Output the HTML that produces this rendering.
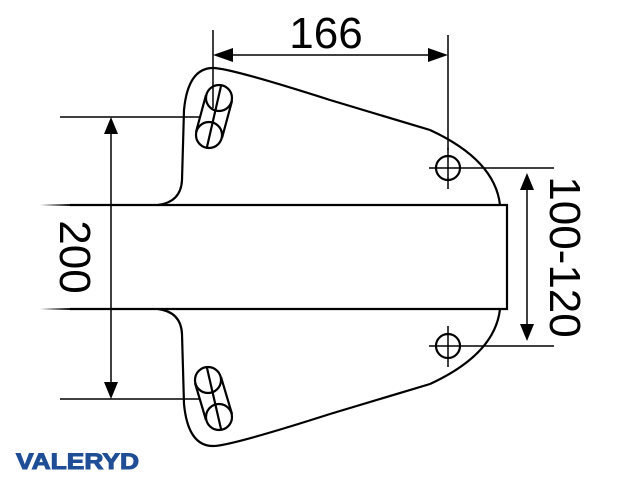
<!DOCTYPE html>
<html><head><style>body{margin:0;background:#fff}</style></head><body>
<svg width="640" height="480" viewBox="0 0 640 480" xmlns="http://www.w3.org/2000/svg">
<defs>
<linearGradient id="fl" x1="0" x2="1"><stop offset="0" stop-color="#000" stop-opacity="0"/><stop offset="1" stop-color="#000"/></linearGradient>
</defs>
<g fill="none" stroke="#000" stroke-width="2.2">
<path d="M158,205 Q181,202 182,180 L184,110 Q188,68 213,68 Q230,68 330,100 L430,130 Q495,160 500,205"/>
<path d="M158,309 Q181,312 182,334 L184,404 Q188,446 213,446 Q230,446 330,414 L430,384 Q495,354 500,309"/>
<path d="M70,205 H507 V309 H70"/>
<circle cx="219" cy="98" r="13"/><circle cx="209" cy="135" r="13"/>
<path d="M206,95 L196,132 M232,101 L222,138 M221,86 L207,147"/>
<circle cx="208" cy="380" r="13"/><circle cx="219" cy="417" r="13"/>
<path d="M195,383 L206,420 M221,377 L232,414 M207,368 L221,429"/>
<circle cx="448" cy="168" r="12"/><circle cx="448" cy="346" r="12"/>
</g>
<g stroke="#000" stroke-width="1.5" fill="none">
<path d="M429,168 H467 M448,148 V189 M429,346 H467 M448,326 V367"/>
<path d="M213,30 V108 M448,35 V150"/>
<path d="M220,55 H441"/>
<path d="M467,168 H554 M467,346 H554"/>
<path d="M527,178 V336"/>
<path d="M60,117 H200 M60,399 H200"/>
<path d="M111,125 V391"/>
</g>
<rect x="40" y="204" width="32" height="2" fill="url(#fl)"/>
<rect x="40" y="308" width="32" height="2" fill="url(#fl)"/>
<g fill="#000">
<polygon points="213,55 233,48 233,62"/><polygon points="448,55 428,48 428,62"/>
<polygon points="527,173 520,190 534,190"/><polygon points="527,341 520,324 534,324"/>
<polygon points="111,117 104,134 118,134"/><polygon points="111,399 104,382 118,382"/>
</g>
<g font-family="Liberation Sans, sans-serif" font-size="44" fill="#000">
<text x="326" y="48" text-anchor="middle">166</text>
<text transform="translate(60,257) rotate(90)" text-anchor="middle">200</text>
<text transform="translate(550,257) rotate(90)" text-anchor="middle">100-120</text>
</g>
<text x="16" y="469" font-family="Liberation Sans, sans-serif" font-weight="bold" font-size="22" fill="#1f4e96" stroke="#1f4e96" stroke-width="1" textLength="123" lengthAdjust="spacingAndGlyphs">VALERYD</text>
</svg>
</body></html>
